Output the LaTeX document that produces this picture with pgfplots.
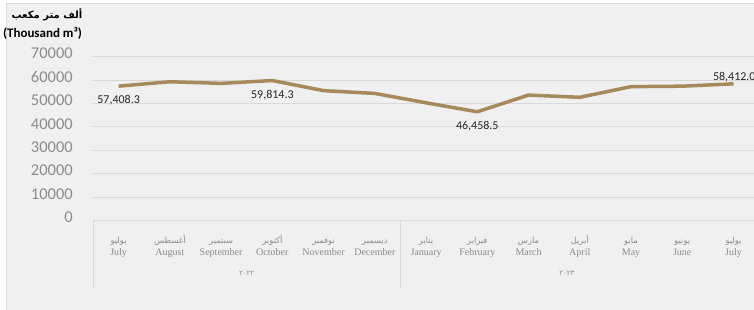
\documentclass[border=0pt]{standalone}
\usepackage{pgfplots}
\pgfplotsset{compat=1.18}
\usepackage{fontspec}
\setmainfont{Carlito}
\newfontfamily\arfont[Script=Arabic]{DejaVu Sans}
\newfontfamily\serifen{Liberation Serif}
\TeXXeTstate=1
\definecolor{bgc}{HTML}{F0F0F0}
\definecolor{bordc}{HTML}{DADADA}
\definecolor{gridc}{HTML}{D9D9D9}
\definecolor{linec}{HTML}{A68A5E}
\definecolor{tickc}{HTML}{8C8C8C}
\definecolor{catc}{HTML}{8A8A8A}
\newcommand{\cat}[2]{{\arfont\fontsize{8.3}{18}\selectfont\rule[-3pt]{0pt}{14pt}\beginR #1\endR}\\{\serifen\fontsize{10}{18}\selectfont\rule[-3pt]{0pt}{9pt}#2}}
\begin{document}
\begin{tikzpicture}
\useasboundingbox (0pt,0pt) rectangle (754pt,310pt);
\fill[white] (0pt,0pt) rectangle (754pt,310pt);
\filldraw[fill=bgc, draw=bordc, line width=0.8pt] (6pt,-3pt) rectangle (760pt,307pt);
\node[font=\arfont\bfseries\fontsize{10}{11}\selectfont] at (47pt,295pt) {\beginR ألف متر مكعب\endR};
\node[font=\bfseries\fontsize{13}{14}\selectfont] at (42.5pt,277pt) {(Thousand m³)};
\begin{axis}[
  at={(93pt,89.5pt)}, anchor=south west,
  width=661pt, height=163.8pt, scale only axis,
  xmin=-0.5, xmax=12.4, ymin=0, ymax=70000,
  axis line style={draw=none},
  clip=false,
  ytick={0,10000,...,70000},
  ymajorgrids, major grid style={gridc, line width=0.8pt},
  major tick length=0pt,
  scaled y ticks=false,
  /pgf/number format/assume math mode=true,
  yticklabel={\pgfmathprintnumber[fixed,1000 sep={}]{\tick}},
  yticklabel style={anchor=east, inner sep=0pt, xshift=-20pt, yshift=3pt, text=tickc, font=\fontsize{16.5}{16.5}\selectfont},
  xtick={0,...,12},
  xticklabels={
    {\cat{يوليو}{July}},
    {\cat{أغسطس}{August}},
    {\cat{سبتمبر}{September}},
    {\cat{أكتوبر}{October}},
    {\cat{نوفمبر}{November}},
    {\cat{ديسمبر}{December}},
    {\cat{يناير}{January}},
    {\cat{فبراير}{February}},
    {\cat{مارس}{March}},
    {\cat{أبريل}{April}},
    {\cat{مايو}{May}},
    {\cat{يونيو}{June}},
    {\cat{يوليو}{July}}},
  xticklabel style={anchor=north, inner sep=0pt, yshift=-12pt, align=center, text=catc},
]
\addplot[color=linec, line width=3.5pt, line join=round] coordinates {
  (0,57408.3) (1,59300) (2,58600) (3,59814.3) (4,55500) (5,54300)
  (6,50300) (7,46458.5) (8,53600) (9,52650) (10,57200) (11,57400) (12,58412.0)
};
\coordinate (d0) at (axis cs:-0.5,0);
\coordinate (d1) at (axis cs:5.5,0);
\coordinate (y0) at (axis cs:2.5,0);
\coordinate (y1) at (axis cs:8.75,0);
\coordinate (p0) at (axis cs:0,57408.3);
\coordinate (p3) at (axis cs:3,59814.3);
\coordinate (p7) at (axis cs:7,46458.5);
\coordinate (p12) at (axis cs:12,58412.0);
\end{axis}
\draw[gridc, line width=0.8pt] (d0) -- ([yshift=-68pt]d0);
\draw[gridc, line width=0.8pt] (d1) -- ([yshift=-68pt]d1);
\node[text=catc, font=\arfont\fontsize{7}{8}\selectfont] at ([yshift=-53pt]y0) {٢٠٢٢};
\node[text=catc, font=\arfont\fontsize{7}{8}\selectfont] at ([yshift=-53pt]y1) {٢٠٢٣};
\node[font=\fontsize{12}{12}\selectfont, text=black!85] at ([yshift=-14pt]p0) {57,408.3};
\node[font=\fontsize{12}{12}\selectfont, text=black!85] at ([yshift=-15pt]p3) {59,814.3};
\node[font=\fontsize{12}{12}\selectfont, text=black!85] at ([yshift=-14.5pt]p7) {46,458.5};
\node[font=\fontsize{12}{12}\selectfont, text=black!85, anchor=west] at ([xshift=-24pt,yshift=7pt]p12) {58,412.0};
\end{tikzpicture}
\end{document}
